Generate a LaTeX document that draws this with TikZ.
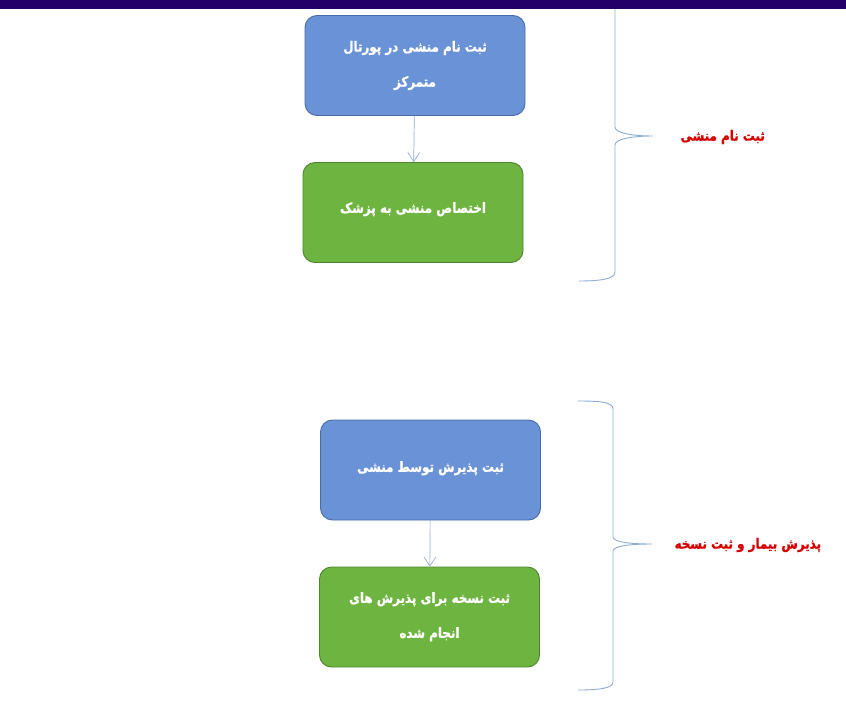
\documentclass[tikz,border=0pt]{standalone}
\usepackage{fontspec}
\newfontfamily\arabicfont[Script=Arabic,FakeStretch=0.85,FakeBold=1.2]{DejaVu Sans}
\TeXXeTstate=1
\usetikzlibrary{arrows.meta}
\definecolor{stepblue}{RGB}{106,146,214}
\definecolor{stepblueline}{RGB}{72,108,168}
\definecolor{stepgreen}{RGB}{110,180,64}
\definecolor{stepgreenline}{RGB}{78,132,48}
\definecolor{bracecol}{RGB}{142,172,212}
\definecolor{labelred}{RGB}{214,0,0}
\definecolor{barcol}{RGB}{34,0,104}
\begin{document}
\begin{tikzpicture}[
    x=1pt, y=-1pt,
    node distance=147pt,
    stepbox/.style={rectangle, draw=stepblueline, fill=stepblue, line width=0.9pt, rounded corners=12pt, minimum width=220pt, minimum height=100pt, text=white, align=center, font=\arabicfont\bfseries\fontsize{14}{35}\selectfont},
    greenbox/.style={stepbox, draw=stepgreenline, fill=stepgreen},
    phase/.style={text=labelred, font=\arabicfont\bfseries\fontsize{14}{14}\selectfont},
    arrow/.style={draw=bracecol, line width=0.7pt, ->, >={Straight Barb[length=9pt,width=12pt]}},
    curly/.style={draw=bracecol, line width=0.9pt}
]
    \useasboundingbox (0,0) rectangle (846,723);

    % Steps of the first phase
    \node [stepbox] (signup) at (415,65.5) {\raisebox{2.5pt}{\beginR ثبت نام منشی در پورتال\endR}\\\raisebox{2.5pt}{\beginR متمرکز\endR}};
    \node [greenbox, below of=signup, xshift=-2pt] (assign) {\raisebox{10pt}{\beginR اختصاص منشی به پزشک\endR}};

    % Steps of the second phase
    \node [stepbox, below of=assign, yshift=-110.5pt, xshift=17.5pt] (admit) {\raisebox{7pt}{\beginR ثبت پذیرش توسط منشی\endR}};
    \node [greenbox, below of=admit, xshift=-1pt] (rx) {\raisebox{4pt}{\beginR ثبت نسخه برای پذیرش های\endR}\\\raisebox{4pt}{\beginR انجام شده\endR}};

    % Arrows
    \draw [arrow] (signup) -- (assign);
    \draw [arrow] (admit) -- (rx);

    % Braces
    \coordinate (tip1) at (653,136);
    \coordinate (tip2) at (652,544);
    \draw [curly] (615,0) -- (615,127) .. controls (615,133) and (632,136) .. (tip1)
        .. controls (632,136) and (615,139) .. (615,145) -- (615,272)
        .. controls (615,279) and (600,281) .. (579,281);
    \draw [curly] (578,401) .. controls (600,401) and (613,402) .. (613,409) -- (613,537)
        .. controls (613,542) and (630,544) .. (tip2)
        .. controls (630,544) and (613,546) .. (613,551) -- (613,682)
        .. controls (613,688) and (600,690) .. (578,690);

    % Phase labels
    \node [phase, anchor=west] (reg) at (677,137) {\beginR ثبت نام منشی\endR};
    \node [phase, anchor=west] (visit) at (671,545) {\beginR پذیرش بیمار و ثبت نسخه\endR};

    % Top bar
    \fill [barcol] (0,0) rectangle (846,9);
\end{tikzpicture}
\end{document}
